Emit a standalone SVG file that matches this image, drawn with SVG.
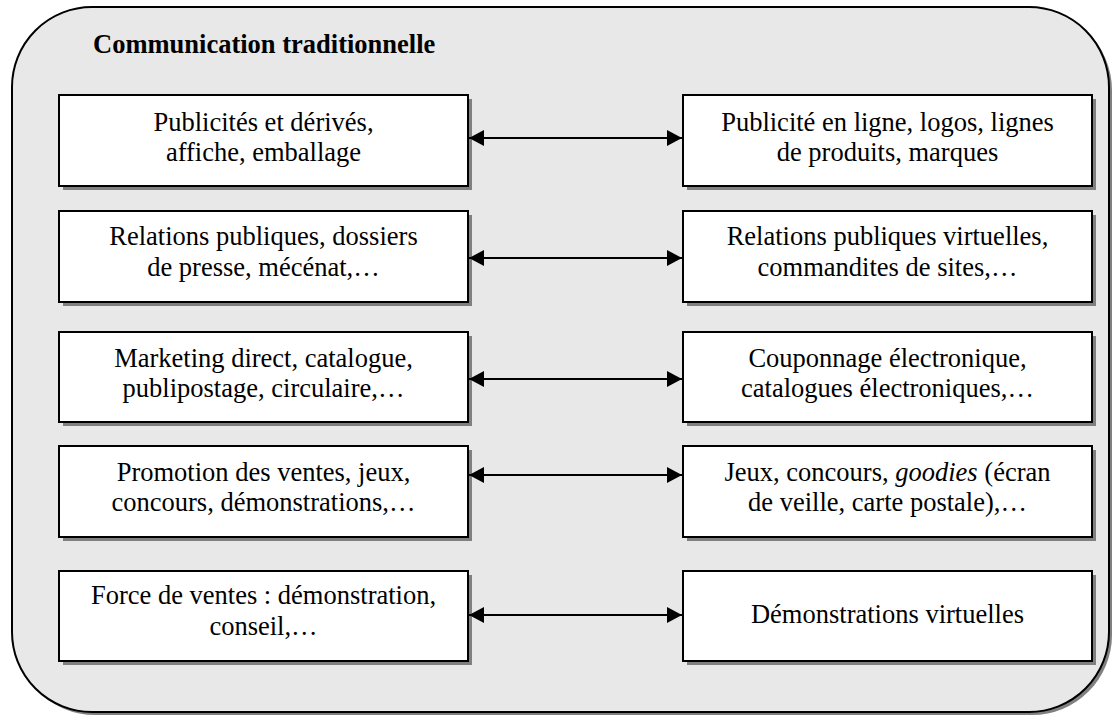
<svg xmlns="http://www.w3.org/2000/svg" width="1112" height="715" viewBox="0 0 1112 715">
<defs>
<style>
.shadow{fill:#808080;}
.box{fill:#ffffff;stroke:#000000;stroke-width:2;}
.t{font-family:"Liberation Serif","Times New Roman",serif;font-size:26.5px;fill:#000;text-anchor:middle;}
.title{font-family:"Liberation Serif","Times New Roman",serif;font-size:26.5px;font-weight:bold;fill:#000;}
.conn{stroke:#000;stroke-width:2;fill:none;marker-start:url(#ah);marker-end:url(#ah);}
</style>
<marker id="ah" viewBox="0 0 15 16" refX="15" refY="8" markerWidth="15" markerHeight="16" markerUnits="userSpaceOnUse" orient="auto-start-reverse">
<path d="M0,0 L15,8 L0,16 Z" fill="#000"/>
</marker>
</defs>
<rect x="0" y="0" width="1112" height="715" fill="#ffffff"/>
<g id="container">
<rect x="15" y="10" width="1097" height="705" rx="80" ry="80" class="shadow"/>
<rect x="12" y="7" width="1097" height="705" rx="80" ry="80" fill="#e8e8e8" stroke="#000" stroke-width="2"/>
<text class="title" x="93" y="53">Communication traditionnelle</text>
</g>
<g id="L1">
<rect x="63" y="99" width="409" height="91" class="shadow"/>
<rect x="59" y="95" width="409" height="91" class="box"/>
<text class="t" x="263.5" y="131">Publicités et dérivés,</text>
<text class="t" x="263.5" y="161">affiche, emballage</text>
</g>
<g id="R1">
<rect x="687" y="99" width="409" height="91" class="shadow"/>
<rect x="683" y="95" width="409" height="91" class="box"/>
<text class="t" x="887.5" y="131">Publicité en ligne, logos, lignes</text>
<text class="t" x="887.5" y="161">de produits, marques</text>
</g>
<g id="L2">
<rect x="63" y="215" width="409" height="91" class="shadow"/>
<rect x="59" y="211" width="409" height="91" class="box"/>
<text class="t" x="263.5" y="245">Relations publiques, dossiers</text>
<text class="t" x="263.5" y="276">de presse, mécénat,…</text>
</g>
<g id="R2">
<rect x="687" y="215" width="409" height="91" class="shadow"/>
<rect x="683" y="211" width="409" height="91" class="box"/>
<text class="t" x="887.5" y="245">Relations publiques virtuelles,</text>
<text class="t" x="887.5" y="276">commandites de sites,…</text>
</g>
<g id="L3">
<rect x="63" y="336" width="409" height="90" class="shadow"/>
<rect x="59" y="332" width="409" height="90" class="box"/>
<text class="t" x="263.5" y="367">Marketing direct, catalogue,</text>
<text class="t" x="263.5" y="397">publipostage, circulaire,…</text>
</g>
<g id="R3">
<rect x="687" y="336" width="409" height="90" class="shadow"/>
<rect x="683" y="332" width="409" height="90" class="box"/>
<text class="t" x="887.5" y="367">Couponnage électronique,</text>
<text class="t" x="887.5" y="397">catalogues électroniques,…</text>
</g>
<g id="L4">
<rect x="63" y="450" width="409" height="91" class="shadow"/>
<rect x="59" y="446" width="409" height="91" class="box"/>
<text class="t" x="263.5" y="481">Promotion des ventes, jeux,</text>
<text class="t" x="263.5" y="511">concours, démonstrations,…</text>
</g>
<g id="R4">
<rect x="687" y="450" width="409" height="91" class="shadow"/>
<rect x="683" y="446" width="409" height="91" class="box"/>
<text class="t" x="887.5" y="481">Jeux, concours, <tspan font-style="italic">goodies</tspan> (écran</text>
<text class="t" x="887.5" y="511">de veille, carte postale),…</text>
</g>
<g id="L5">
<rect x="63" y="575" width="409" height="90" class="shadow"/>
<rect x="59" y="571" width="409" height="90" class="box"/>
<text class="t" x="263.5" y="604">Force de ventes : démonstration,</text>
<text class="t" x="263.5" y="635">conseil,…</text>
</g>
<g id="R5">
<rect x="687" y="575" width="409" height="90" class="shadow"/>
<rect x="683" y="571" width="409" height="90" class="box"/>
<text class="t" x="887.5" y="623">Démonstrations virtuelles</text>
</g>
<g id="connectors">
<line class="conn" x1="469" y1="138" x2="682" y2="138"/>
<line class="conn" x1="469" y1="258" x2="682" y2="258"/>
<line class="conn" x1="469" y1="379" x2="682" y2="379"/>
<line class="conn" x1="469" y1="475" x2="682" y2="475"/>
<line class="conn" x1="469" y1="615" x2="682" y2="615"/>
</g>
</svg>
